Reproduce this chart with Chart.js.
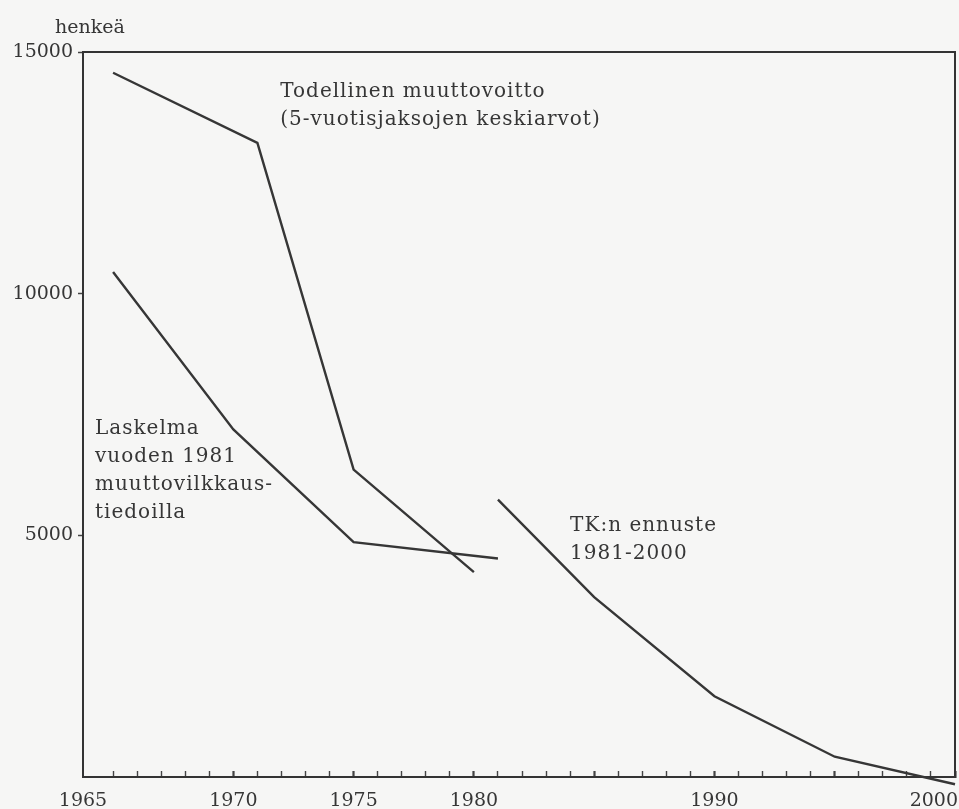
<!DOCTYPE html>
<html>
<head>
<meta charset="utf-8">
<script src="https://cdn.jsdelivr.net/npm/chart.js@4"></script>
<style>
  html, body { margin: 0; padding: 0; background: #f6f6f5; }
  #wrap { position: relative; width: 959px; height: 809px; }
</style>
</head>
<body>
<div id="wrap"><canvas id="chart"></canvas></div>
<script>
// values (henkeä = persons)
const todellinenYears = [1965, 1971, 1975, 1980];
const todellinenValues = [14570, 13120, 6360, 4240];
const laskelmaYears = [1965, 1970, 1975, 1981];
const laskelmaValues = [10450, 7190, 4860, 4520];
const ennusteYears = [1981, 1985, 1990, 1995, 2000];
const ennusteValues = [5740, 3720, 1670, 420, -150];

const yTickValues = [5000, 10000, 15000];
const xLabelYears = [1965, 1970, 1975, 1980, 1990, 2000];
const xMajorYears = [1970, 1975, 1980, 1985, 1990, 1995, 2000];
const firstYear = 1965, lastYear = 2000;

// text notes, anchored in data units (left edge, baseline of first line)
const notes = [
    { year: 1971.95, value: 14070, lines: ['Todellinen muuttovoitto', '(5-vuotisjaksojen keskiarvot)'] },
    { year: 1964.25, value: 7090, lines: ['Laskelma', 'vuoden 1981', 'muuttovilkkaus-', 'tiedoilla'] },
    { year: 1984.0, value: 5080, lines: ['TK:n ennuste', '1981-2000'] },
];

const INK = '#363636';
const SERIF = "'DejaVu Serif', 'Liberation Serif', serif";

const pts = (xs, ys) => xs.map((x, i) => ({ x, y: ys[i] }));

const lineStyle = {
    borderColor: INK,
    borderWidth: 2.4,
    pointRadius: 0,
    tension: 0,
    fill: false,
    clip: false,
};

const annotate = {
    id: 'annotate',
    afterDraw(chart) {
        const { ctx, chartArea: a, scales: { x, y } } = chart;
        ctx.save();
        // top and right sides of the frame
        ctx.strokeStyle = '#333';
        ctx.lineWidth = 2;
        ctx.beginPath();
        ctx.moveTo(a.left, a.top);
        ctx.lineTo(a.right, a.top);
        ctx.lineTo(a.right, a.bottom);
        ctx.stroke();

        ctx.fillStyle = INK;
        ctx.font = `19px ${SERIF}`;
        ctx.textBaseline = 'alphabetic';
        ctx.textAlign = 'left';
        ctx.fillText('henkeä', 55, 33);

        // year labels; the first sits at the corner as in the print
        ctx.textAlign = 'center';
        xLabelYears.forEach((yr, i) => {
            const label = String(yr);
            const w = ctx.measureText(label).width;
            let px = i === 0 ? x.left : x.getPixelForValue(yr);
            px = Math.min(px, chart.width - w / 2 - 1);
            ctx.fillText(label, px, 806);
        });

        ctx.textAlign = 'left';
        ctx.font = `20px ${SERIF}`;
        ctx.letterSpacing = '1px';
        notes.forEach(n => {
            const px = x.getPixelForValue(n.year);
            const py = y.getPixelForValue(n.value);
            n.lines.forEach((t, i) => ctx.fillText(t, px, py + i * 28));
        });
        ctx.restore();
    }
};

new Chart(document.getElementById('chart'), {
    type: 'line',
    data: {
        datasets: [
            { label: 'Todellinen muuttovoitto', data: pts(todellinenYears, todellinenValues), ...lineStyle },
            { label: 'Laskelma', data: pts(laskelmaYears, laskelmaValues), ...lineStyle },
            { label: 'TK:n ennuste', data: pts(ennusteYears, ennusteValues), ...lineStyle },
        ]
    },
    options: {
        responsive: true,
        maintainAspectRatio: false,
        animation: false,
        layout: { padding: { top: 52, right: 4, left: 0, bottom: 0 } },
        plugins: { legend: { display: false }, tooltip: { enabled: false } },
        scales: {
            x: {
                type: 'linear',
                min: 1963.75,
                max: lastYear,
                afterBuildTicks: s => {
                    const t = [];
                    for (let yr = firstYear; yr <= lastYear; yr++) t.push({ value: yr });
                    s.ticks = t;
                },
                afterFit: s => { s.height = 32; },
                ticks: { display: false },
                grid: {
                    drawOnChartArea: false,
                    tickLength: -6,
                    tickColor: '#444',
                    tickWidth: c => xMajorYears.includes(c.tick && c.tick.value) ? 2.2 : 1.4,
                },
                border: { color: '#333', width: 2 },
            },
            y: {
                min: 0,
                max: 15000,
                afterBuildTicks: s => { s.ticks = yTickValues.map(v => ({ value: v })); },
                afterFit: s => { s.width = 83; },
                ticks: {
                    color: INK,
                    padding: 5,
                    font: { family: SERIF, size: 19 },
                    callback: v => String(v),
                },
                grid: { drawOnChartArea: false, tickLength: 5, tickColor: '#444', tickWidth: 1.5 },
                border: { color: '#333', width: 2 },
            }
        }
    },
    plugins: [annotate]
});
</script>
</body>
</html>
